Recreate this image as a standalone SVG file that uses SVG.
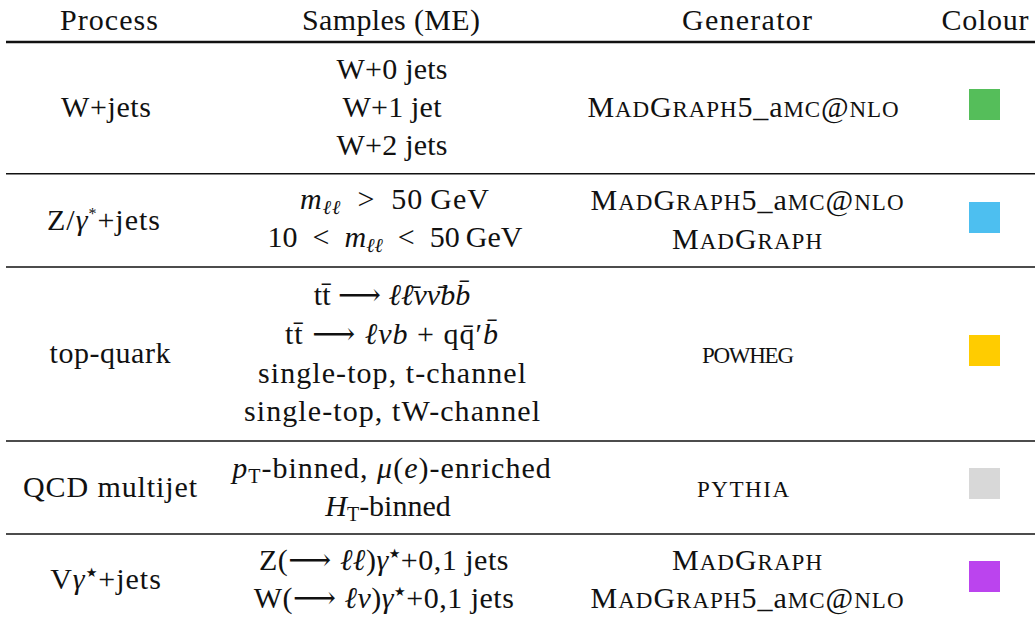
<svg xmlns="http://www.w3.org/2000/svg" width="1035" height="625" viewBox="0 0 1035 625">
<style>
.t{font-family:"Liberation Serif","DejaVu Serif",serif;font-size:30px;fill:#111;text-anchor:middle}
.i{font-style:italic}
.sc{font-size:23px}
.sub{font-size:20px}
.sup{font-size:16px}
.star{font-size:13px;font-family:"DejaVu Sans",sans-serif}
.ls1{letter-spacing:1px}
.ls05{letter-spacing:0.5px}
.rule{stroke:#111;stroke-width:1.4}
.top{stroke:#111;stroke-width:2.4}
</style>
<rect width="1035" height="625" fill="#fff"/>
<g id="rules">
<line class="top" x1="6" y1="42" x2="1035" y2="42"/>
<line class="rule" x1="6" y1="173.8" x2="1035" y2="173.8"/>
<line class="rule" x1="6" y1="267" x2="1035" y2="267"/>
<line class="rule" x1="6" y1="441" x2="1035" y2="441"/>
<line class="rule" x1="6" y1="534" x2="1035" y2="534"/>
</g>
<g id="header">
<text class="t" x="109" y="30" textLength="98" lengthAdjust="spacing">Process</text>
<text class="t" x="391" y="30" textLength="178" lengthAdjust="spacing">Samples (ME)</text>
<text class="t" x="747" y="30" textLength="130" lengthAdjust="spacing">Generator</text>
<text class="t" x="985" y="30" textLength="87" lengthAdjust="spacing">Colour</text>
</g>
<g id="row-wjets">
<text class="t" x="106" y="117" textLength="90" lengthAdjust="spacing">W+jets</text>
<text class="t" x="392" y="79" textLength="111" lengthAdjust="spacing">W+0 jets</text>
<text class="t" x="392" y="117" textLength="99" lengthAdjust="spacing">W+1 jet</text>
<text class="t" x="392" y="155" textLength="111" lengthAdjust="spacing">W+2 jets</text>
<text class="t" x="743" y="117" textLength="311" lengthAdjust="spacing">M<tspan class="sc">AD</tspan>G<tspan class="sc">RAPH</tspan>5_a<tspan class="sc">MC</tspan>@<tspan class="sc">NLO</tspan></text>
<rect x="969" y="89" width="31" height="31" fill="#55BE5A"/>
</g>
<g id="row-zjets">
<text class="t ls1" x="104" y="230">Z/<tspan class="i">γ</tspan><tspan class="sup" dy="-11">*</tspan><tspan dy="11">+jets</tspan></text>
<text class="t ls1" x="395" y="209"><tspan class="i">m</tspan><tspan class="sub i" dy="5">ℓℓ</tspan><tspan dy="-5">&#x2002;&gt;&#x2002;50&#x2009;GeV</tspan></text>
<text class="t" x="395" y="247">10&#x2002;&lt;&#x2002;<tspan class="i">m</tspan><tspan class="sub i" dy="5">ℓℓ</tspan><tspan dy="-5">&#x2002;&lt;&#x2002;50&#x2009;GeV</tspan></text>
<text class="t" x="747" y="210" textLength="313" lengthAdjust="spacing">M<tspan class="sc">AD</tspan>G<tspan class="sc">RAPH</tspan>5_a<tspan class="sc">MC</tspan>@<tspan class="sc">NLO</tspan></text>
<text class="t" x="747" y="249" textLength="150" lengthAdjust="spacing">M<tspan class="sc">AD</tspan>G<tspan class="sc">RAPH</tspan></text>
<rect x="969" y="202" width="31" height="31" fill="#4DBFF0"/>
</g>
<g id="row-top">
<text class="t" x="110" y="363" textLength="121" lengthAdjust="spacing">top-quark</text>
<text class="t" x="392" y="305">tt&#x304; ⟶ <tspan class="i">ℓℓ&#x304;νν&#x304;bb&#x304;</tspan></text>
<text class="t ls1" x="392" y="344">tt&#x304; ⟶ <tspan class="i">ℓνb</tspan> + qq&#x304;′<tspan class="i">b&#x304;</tspan></text>
<text class="t" x="392" y="383" textLength="268" lengthAdjust="spacing">single-top, t-channel</text>
<text class="t" x="392" y="421" textLength="296" lengthAdjust="spacing">single-top, tW-channel</text>
<text class="t" x="748" y="363" textLength="92" lengthAdjust="spacing"><tspan class="sc">POWHEG</tspan></text>
<rect x="969" y="335" width="31" height="31" fill="#FFCC00"/>
</g>
<g id="row-qcd">
<text class="t" x="110" y="497" textLength="174" lengthAdjust="spacing">QCD multijet</text>
<text class="t ls1" x="392" y="478"><tspan class="i">p</tspan><tspan class="sub" dy="5">T</tspan><tspan dy="-5">-binned, </tspan><tspan class="i">μ</tspan>(<tspan class="i">e</tspan>)-enriched</text>
<text class="t" x="388" y="516"><tspan class="i">H</tspan><tspan class="sub" dy="5">T</tspan><tspan dy="-5">-binned</tspan></text>
<text class="t" x="743" y="497" textLength="92" lengthAdjust="spacing"><tspan class="sc">PYTHIA</tspan></text>
<rect x="969" y="468" width="31" height="31" fill="#D8D8D8"/>
</g>
<g id="row-vgamma">
<text class="t ls1" x="106" y="589">V<tspan class="i">γ</tspan><tspan class="star" dy="-12">★</tspan><tspan dy="12">+jets</tspan></text>
<text class="t ls05" x="384" y="570">Z(⟶ <tspan class="i">ℓℓ</tspan>)<tspan class="i">γ</tspan><tspan class="star" dy="-12">★</tspan><tspan dy="12">+0,1 jets</tspan></text>
<text class="t ls05" x="384" y="608">W(⟶ <tspan class="i">ℓν</tspan>)<tspan class="i">γ</tspan><tspan class="star" dy="-12">★</tspan><tspan dy="12">+0,1 jets</tspan></text>
<text class="t" x="747" y="570" textLength="150" lengthAdjust="spacing">M<tspan class="sc">AD</tspan>G<tspan class="sc">RAPH</tspan></text>
<text class="t" x="747" y="608" textLength="313" lengthAdjust="spacing">M<tspan class="sc">AD</tspan>G<tspan class="sc">RAPH</tspan>5_a<tspan class="sc">MC</tspan>@<tspan class="sc">NLO</tspan></text>
<rect x="969" y="561" width="31" height="31" fill="#BB44EE"/>
</g>
</svg>
